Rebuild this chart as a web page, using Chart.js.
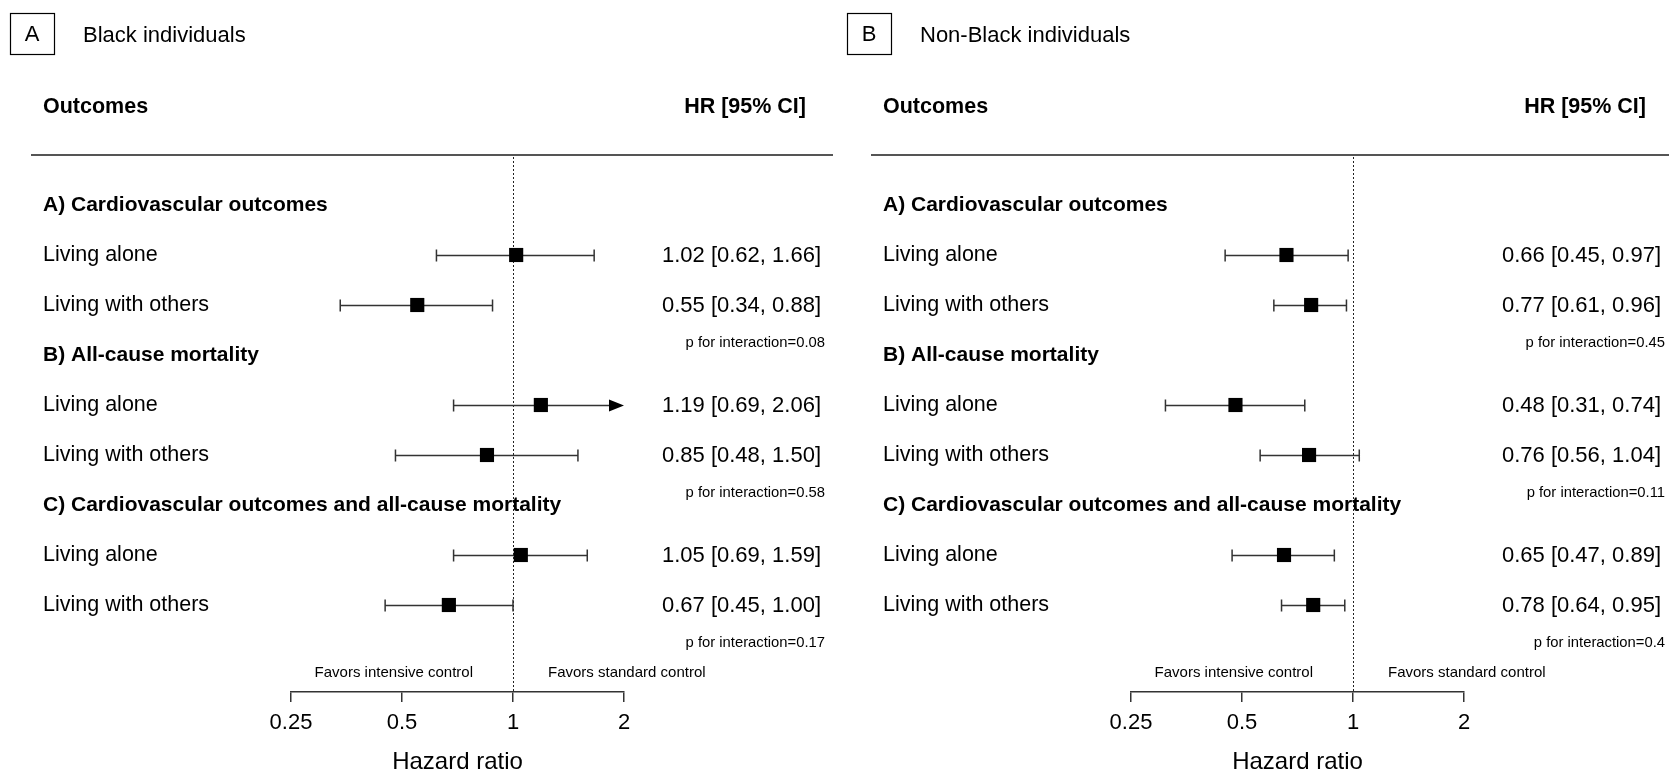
<!DOCTYPE html>
<html lang="en">
<head>
    <meta charset="UTF-8">
    <meta name="viewport" content="width=device-width, initial-scale=1.0">
    <title>Living alone vs living with others - forest plots</title>
    <style>
body {
    margin: 0;
    padding: 0;
    background-color: #fff;
    width: 1669px;
    height: 770px;
    overflow: hidden;
    position: relative;
}

.panel {
    position: absolute;
    top: 0;
    width: 834px;
    height: 770px;
}

#panelA { left: 0; }
#panelB { left: 840px; }
    </style>
</head>
<body>
    <div class="panel" id="panelA"><canvas id="chartA"></canvas></div>
    <div class="panel" id="panelB"><canvas id="chartB"></canvas></div>

    <script src="https://cdn.jsdelivr.net/npm/chart.js@4"></script>
    <script>
        // Rows of the table
        const sections = ['A) Cardiovascular outcomes', 'B) All-cause mortality', 'C) Cardiovascular outcomes and all-cause mortality'];
        const subgroups = ['Living alone', 'Living with others'];

        // Black individuals
        const blackHR = [1.02, 0.55, 1.19, 0.85, 1.05, 0.67];
        const blackLo = [0.62, 0.34, 0.69, 0.48, 0.69, 0.45];
        const blackHi = [1.66, 0.88, 2.06, 1.50, 1.59, 1.00];
        const blackP = ['0.08', '0.58', '0.17'];

        // Non-Black individuals
        const nonBlackHR = [0.66, 0.77, 0.48, 0.76, 0.65, 0.78];
        const nonBlackLo = [0.45, 0.61, 0.31, 0.56, 0.47, 0.64];
        const nonBlackHi = [0.97, 0.96, 0.74, 1.04, 0.89, 0.95];
        const nonBlackP = ['0.45', '0.11', '0.4'];

        const xTicks = [0.25, 0.5, 1, 2];

        const FONT = '"Liberation Sans", Arial, sans-serif';

        // build the list of rows: a header for each section, then its subgroups
        const rows = [];
        sections.forEach(s => {
            rows.push({ label: s, header: true });
            subgroups.forEach(g => rows.push({ label: g, header: false }));
        });
        // row index of estimate i
        function rowOf(i) {
            const k = Math.floor(i / subgroups.length);
            return k * (subgroups.length + 1) + 1 + (i % subgroups.length);
        }
        function fmt(v) { return v.toFixed(2); }

        const forestPlugin = {
            id: 'forest',
            beforeDatasetsDraw(chart, args, opts) {
                const ctx = chart.ctx, xs = chart.scales.x, ys = chart.scales.y, area = chart.chartArea;
                ctx.save();
                // dotted reference line at HR = 1
                const x1 = Math.round(xs.getPixelForValue(1)) + 0.5;
                ctx.strokeStyle = '#222';
                ctx.lineWidth = 1;
                ctx.setLineDash([2, 2]);
                ctx.beginPath();
                ctx.moveTo(x1, area.top + 2);
                ctx.lineTo(x1, area.bottom);
                ctx.stroke();
                ctx.setLineDash([]);

                // confidence intervals
                ctx.strokeStyle = '#333';
                ctx.fillStyle = '#000';
                ctx.lineWidth = 1.5;
                opts.lo.forEach((lo, i) => {
                    const hi = opts.hi[i];
                    const yy = Math.round(ys.getPixelForValue(rowOf(i))) + 0.5;
                    const xl = xs.getPixelForValue(Math.max(lo, xs.min));
                    const xr = xs.getPixelForValue(Math.min(hi, xs.max));
                    const arrow = hi > xs.max;
                    ctx.beginPath();
                    ctx.moveTo(xl, yy);
                    ctx.lineTo(arrow ? xr - 14 : xr, yy);
                    ctx.moveTo(xl, yy - 6);
                    ctx.lineTo(xl, yy + 6);
                    if (!arrow) {
                        ctx.moveTo(xr, yy - 6);
                        ctx.lineTo(xr, yy + 6);
                    }
                    ctx.stroke();
                    if (arrow) {
                        ctx.beginPath();
                        ctx.moveTo(xr, yy);
                        ctx.lineTo(xr - 15, yy - 6);
                        ctx.lineTo(xr - 15, yy + 6);
                        ctx.closePath();
                        ctx.fill();
                    }
                });
                ctx.restore();
            },
            afterDraw(chart, args, opts) {
                const ctx = chart.ctx, xs = chart.scales.x, ys = chart.scales.y, area = chart.chartArea;
                ctx.save();
                ctx.fillStyle = '#000';
                ctx.textBaseline = 'middle';

                // panel letter box and title
                ctx.strokeStyle = '#000';
                ctx.lineWidth = 1.2;
                ctx.strokeRect(opts.boxX + 0.5, 13.5, 44, 41);
                ctx.font = '22px ' + FONT;
                ctx.textAlign = 'center';
                ctx.fillText(opts.letter, opts.boxX + 22, 35);
                ctx.textAlign = 'left';
                ctx.fillText(opts.title, opts.boxX + 73, 35.5);

                // column headers
                ctx.font = 'bold 21.5px ' + FONT;
                ctx.fillText('Outcomes', 43, 107.5);
                ctx.textAlign = 'right';
                ctx.fillText('HR [95% CI]', 806, 107.5);

                // rule under the headers
                ctx.strokeStyle = '#555';
                ctx.lineWidth = 2;
                ctx.beginPath();
                ctx.moveTo(31, area.top);
                ctx.lineTo(chart.width - 1, area.top);
                ctx.stroke();

                // row labels
                ctx.textAlign = 'left';
                rows.forEach((r, idx) => {
                    ctx.font = (r.header ? 'bold 21px ' : '21.5px ') + FONT;
                    ctx.fillText(r.label, 43, ys.getPixelForValue(idx) + 0.5);
                });

                // estimates text
                ctx.textAlign = 'right';
                ctx.font = '22px ' + FONT;
                opts.hr.forEach((v, i) => {
                    const txt = fmt(v) + ' [' + fmt(opts.lo[i]) + ', ' + fmt(opts.hi[i]) + ']';
                    ctx.fillText(txt, 821, ys.getPixelForValue(rowOf(i)) + 0.5);
                });

                // interaction p-values
                ctx.font = '14.8px ' + FONT;
                opts.p.forEach((pv, k) => {
                    const last = rowOf(k * subgroups.length + subgroups.length - 1);
                    ctx.fillText('p for interaction=' + pv, 825, ys.getPixelForValue(last + 0.76));
                });

                // favours labels
                const x1 = xs.getPixelForValue(1);
                ctx.font = '15px ' + FONT;
                ctx.fillText('Favors intensive control', x1 - 40, area.bottom - 19);
                ctx.textAlign = 'left';
                ctx.fillText('Favors standard control', x1 + 35, area.bottom - 19);
                ctx.restore();
            }
        };

        function makePanel(canvasId, letter, title, hr, lo, hi, p, boxX) {
            const ctx = document.getElementById(canvasId).getContext('2d');
            return new Chart(ctx, {
                type: 'scatter',
                data: {
                    datasets: [{
                        label: title,
                        data: hr.map((v, i) => ({ x: v, y: rowOf(i) })),
                        pointStyle: 'rect',
                        pointRadius: 10,
                        pointHoverRadius: 10,
                        backgroundColor: '#000',
                        borderWidth: 0
                    }]
                },
                options: {
                    responsive: true,
                    maintainAspectRatio: false,
                    animation: false,
                    events: [],
                    layout: { padding: { left: 291, right: 210, top: 155, bottom: 0 } },
                    plugins: {
                        legend: { display: false },
                        tooltip: { enabled: false },
                        forest: { letter, title, hr, lo, hi, p, boxX }
                    },
                    scales: {
                        x: {
                            type: 'logarithmic',
                            min: 0.25,
                            max: 2,
                            afterBuildTicks: scale => { scale.ticks = xTicks.map(v => ({ value: v })); },
                            afterFit: scale => { scale.height = 78; },
                            grid: { drawOnChartArea: false, tickLength: 10, color: '#333', lineWidth: 1.5 },
                            border: { color: '#333', width: 1.5 },
                            ticks: {
                                autoSkip: false,
                                maxRotation: 0,
                                padding: 8,
                                color: '#000',
                                font: { family: FONT, size: 22 },
                                callback: v => String(v)
                            },
                            title: {
                                display: true,
                                text: 'Hazard ratio',
                                color: '#000',
                                padding: { top: 0, bottom: -4 },
                                font: { family: FONT, size: 24, lineHeight: 1 }
                            }
                        },
                        y: {
                            type: 'linear',
                            display: false,
                            reverse: true,
                            min: -1,
                            max: 9.74
                        }
                    }
                },
                plugins: [forestPlugin]
            });
        }

        makePanel('chartA', 'A', 'Black individuals', blackHR, blackLo, blackHi, blackP, 10);
        makePanel('chartB', 'B', 'Non-Black individuals', nonBlackHR, nonBlackLo, nonBlackHi, nonBlackP, 7);
    </script>
</body>
</html>
